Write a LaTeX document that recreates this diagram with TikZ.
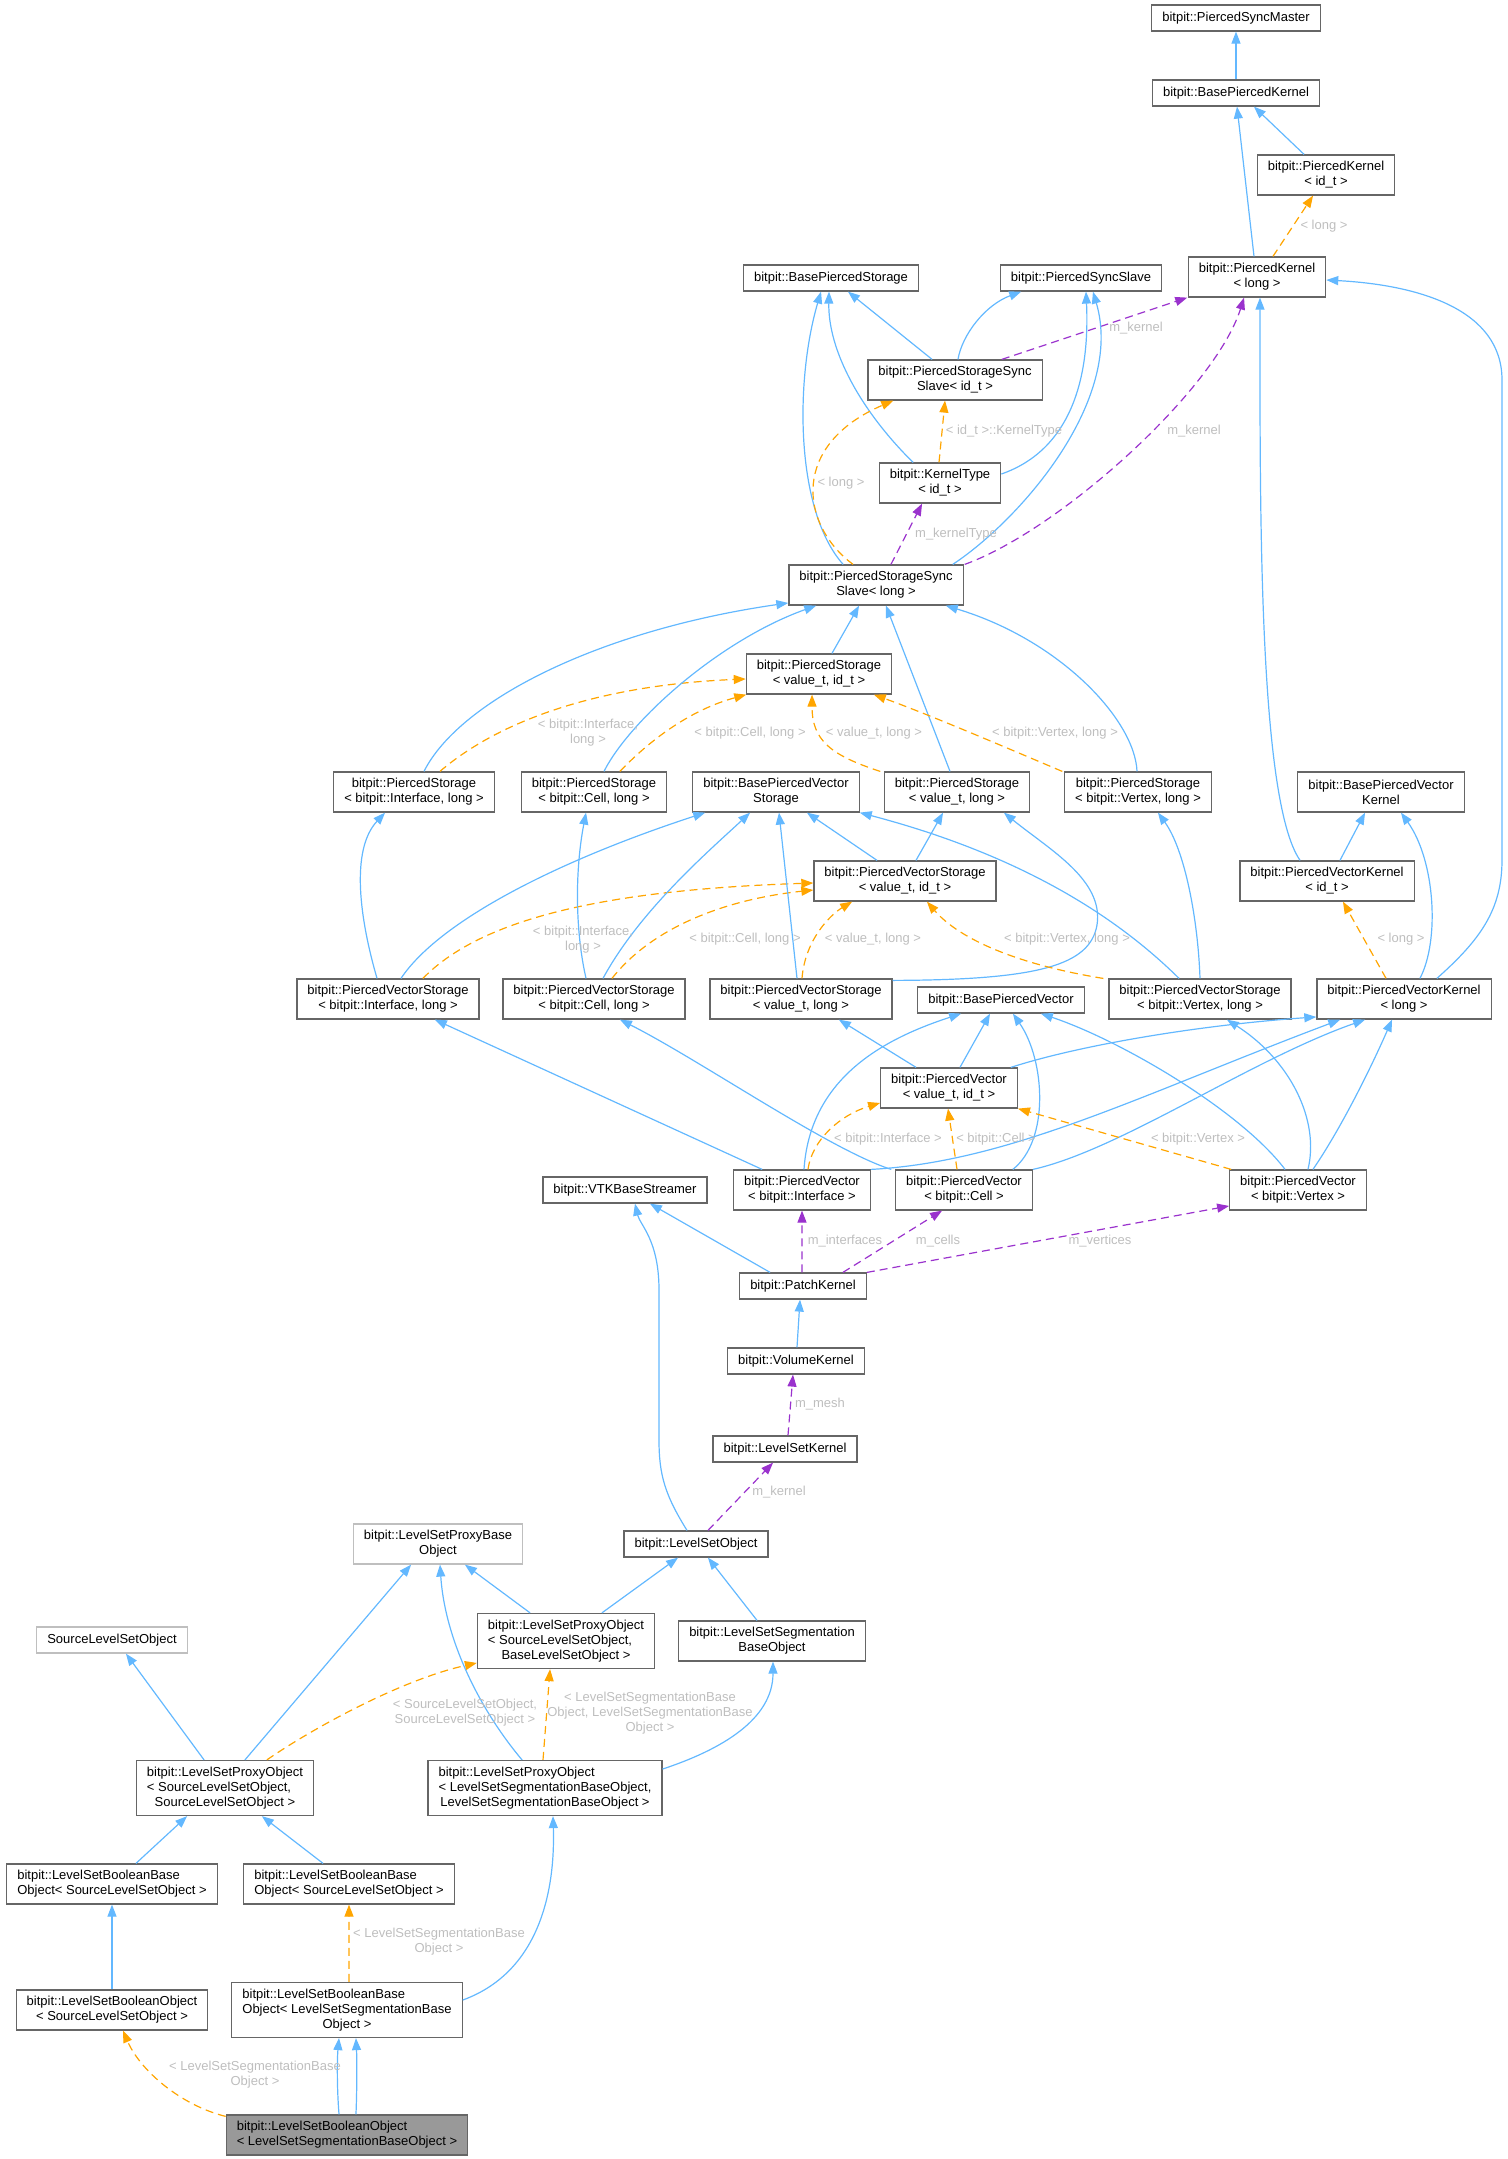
\documentclass[tikz,border=0pt]{standalone}
\usepackage{fontspec}
\setmainfont{Liberation Sans}
\usetikzlibrary{arrows.meta}
\definecolor{edgeblue}{HTML}{63B8FF}
\definecolor{edgeorange}{HTML}{FFA500}
\definecolor{edgepurple}{HTML}{9A32CD}
\definecolor{boxline}{HTML}{666666}
\definecolor{boxlight}{HTML}{BFBFBF}
\definecolor{lblgrey}{HTML}{BEBEBE}
\definecolor{curfill}{HTML}{999999}
\begin{document}
\begin{tikzpicture}
            [x=1bp, y=-1bp, font=\fontsize{13bp}{15bp}\selectfont,
            cls/.style={rectangle, draw=boxline, fill=white, line width=1.2bp,
            inner xsep=10.5bp, inner ysep=0bp, minimum height=26bp, align=center},
            cls2/.style={cls, minimum height=40bp},
            cls3/.style={cls, minimum height=55bp},
            % every edge ends at the base class
            inh/.style={draw=edgeblue, line width=1.2bp, -{Triangle[length=12bp, width=9bp]}},
            tmpl/.style={draw=edgeorange, line width=1.2bp, dash pattern=on 8bp off 5bp,
            -{Triangle[length=12bp, width=9bp]}},
            usage/.style={draw=edgepurple, line width=1.2bp, dash pattern=on 8bp off 5bp,
            -{Triangle[length=12bp, width=9bp]}},
            lbl/.style={text=lblgrey, inner sep=0bp, align=center}]
            \useasboundingbox (0,0) rectangle (1508,2159);

            % kernels and storages
            \node [cls] (syncmaster) at (1236,18) {bitpit::PiercedSyncMaster};
            \node [cls] (basekernel) at (1236,93) {bitpit::BasePiercedKernel};
            \node [cls2] (kernelid) at (1326,175) {bitpit::PiercedKernel\\< id\_t >};
            \node [cls2] (kernellong) at (1257,277) {bitpit::PiercedKernel\\< long >};
            \node [cls] (basestorage) at (831,278) {bitpit::BasePiercedStorage};
            \node [cls] (syncslave) at (1081,278) {bitpit::PiercedSyncSlave};
            \node [cls2] (syncslaveid) at (955,380) {bitpit::PiercedStorageSync\\Slave< id\_t >};
            \node [cls2] (kerneltype) at (940,483) {bitpit::KernelType\\< id\_t >};
            \node [cls2] (syncslavelong) at (876,585) {bitpit::PiercedStorageSync\\Slave< long >};
            \node [cls2] (storageid) at (819,674) {bitpit::PiercedStorage\\< value\_t, id\_t >};
            \node [cls2] (storageiface) at (414,792) {bitpit::PiercedStorage\\< bitpit::Interface, long >};
            \node [cls2] (storagecell) at (594,792) {bitpit::PiercedStorage\\< bitpit::Cell, long >};
            \node [cls2] (basevecstorage) at (776,792) {bitpit::BasePiercedVector\\Storage};
            \node [cls2] (storagelong) at (957,792) {bitpit::PiercedStorage\\< value\_t, long >};
            \node [cls2] (storagevertex) at (1138,792) {bitpit::PiercedStorage\\< bitpit::Vertex, long >};
            \node [cls2] (basevkernel) at (1381,792) {bitpit::BasePiercedVector\\Kernel};
            \node [cls2] (vstorageid) at (905,881) {bitpit::PiercedVectorStorage\\< value\_t, id\_t >};
            \node [cls2] (vkernelid) at (1327,881) {bitpit::PiercedVectorKernel\\< id\_t >};
            \node [cls2] (vstorageiface) at (388,999) {bitpit::PiercedVectorStorage\\< bitpit::Interface, long >};
            \node [cls2] (vstoragecell) at (594,999) {bitpit::PiercedVectorStorage\\< bitpit::Cell, long >};
            \node [cls2] (vstoragelong) at (801,999) {bitpit::PiercedVectorStorage\\< value\_t, long >};
            \node [cls] (basevector) at (1001,1000) {bitpit::BasePiercedVector};
            \node [cls2] (vstoragevertex) at (1200,999) {bitpit::PiercedVectorStorage\\< bitpit::Vertex, long >};
            \node [cls2] (vkernellong) at (1404,999) {bitpit::PiercedVectorKernel\\< long >};
            \node [cls2] (vectorid) at (949,1088) {bitpit::PiercedVector\\< value\_t, id\_t >};
            \node [cls] (vtk) at (625,1190) {bitpit::VTKBaseStreamer};
            \node [cls2] (vectoriface) at (802,1190) {bitpit::PiercedVector\\< bitpit::Interface >};
            \node [cls2] (vectorcell) at (964,1190) {bitpit::PiercedVector\\< bitpit::Cell >};
            \node [cls2] (vectorvertex) at (1298,1190) {bitpit::PiercedVector\\< bitpit::Vertex >};
            \node [cls] (patch) at (803,1286) {bitpit::PatchKernel};
            \node [cls] (volume) at (796,1361) {bitpit::VolumeKernel};
            \node [cls] (lskernel) at (785,1449) {bitpit::LevelSetKernel};

            % level set objects
            \node [cls2, draw=boxlight] (proxybase) at (438,1544) {bitpit::LevelSetProxyBase\\Object};
            \node [cls] (lsobject) at (696,1544) {bitpit::LevelSetObject};
            \node [cls, draw=boxlight] (source) at (112,1640) {SourceLevelSetObject};
            \node [cls3] (proxysb) at (566,1641) {\begin{tabular}{@{}l@{}}bitpit::LevelSetProxyObject\\< SourceLevelSetObject,\\\multicolumn{1}{@{}c@{}}{BaseLevelSetObject >}\end{tabular}};
            \node [cls2] (segbase) at (772,1641) {bitpit::LevelSetSegmentation\\BaseObject};
            \node [cls3] (proxyss) at (225,1788) {\begin{tabular}{@{}l@{}}bitpit::LevelSetProxyObject\\< SourceLevelSetObject,\\\multicolumn{1}{@{}c@{}}{SourceLevelSetObject >}\end{tabular}};
            \node [cls3] (proxyseg) at (545,1788) {\begin{tabular}{@{}l@{}}bitpit::LevelSetProxyObject\\< LevelSetSegmentationBaseObject,\\\multicolumn{1}{@{}c@{}}{LevelSetSegmentationBaseObject >}\end{tabular}};
            \node [cls2, align=left] (boolbaseA) at (112,1884) {bitpit::LevelSetBooleanBase\\Object< SourceLevelSetObject >};
            \node [cls2, align=left] (boolbaseB) at (349,1884) {bitpit::LevelSetBooleanBase\\Object< SourceLevelSetObject >};
            \node [cls2] (boolobjA) at (112,2010) {bitpit::LevelSetBooleanObject\\< SourceLevelSetObject >};
            \node [cls3] (boolbaseseg) at (347,2010) {\begin{tabular}{@{}l@{}}bitpit::LevelSetBooleanBase\\Object< LevelSetSegmentationBase\\\multicolumn{1}{@{}c@{}}{Object >}\end{tabular}};
            \node [cls2, align=left, fill=curfill] (boolobjseg) at (347,2135) {bitpit::LevelSetBooleanObject\\< LevelSetSegmentationBaseObject >};

            % top part
            \draw [inh] (basekernel) -- (syncmaster);
            \draw [inh] ([xshift=-22]kernelid.north) -- ([xshift=18]basekernel.south);
            \draw [inh] ([xshift=-3]kernellong.north) -- ([xshift=1]basekernel.south);
            \draw [tmpl] ([xshift=16]kernellong.north) -- ([xshift=-13]kernelid.south);
            \draw [inh] ([xshift=-23]syncslaveid.north) -- ([xshift=17]basestorage.south);
            \draw [inh] ([xshift=3]syncslaveid.north) .. controls (962,335) and (985,305) .. ([xshift=-60]syncslave.south);
            \draw [usage] ([xshift=47]syncslaveid.north) -- ([xshift=-70]kernellong.south);
            \draw [inh] ([xshift=-27]kerneltype.north) .. controls (860,410) and (828,350) .. ([xshift=-2]basestorage.south);
            \draw [inh] ([yshift=9]kerneltype.east) .. controls (1070,450) and (1090,380) .. ([xshift=5]syncslave.south);
            \draw [tmpl] ([xshift=-1]kerneltype.north) -- ([xshift=-10]syncslaveid.south);
            \draw [inh] ([xshift=-33]syncslavelong.north) .. controls (795,510) and (795,380) .. ([xshift=-10]basestorage.south);
            \draw [tmpl] ([xshift=-23]syncslavelong.north) .. controls (800,525) and (790,445) .. ([xshift=-62]syncslaveid.south);
            \draw [inh] ([xshift=77]syncslavelong.north) .. controls (1020,520) and (1125,400) .. ([xshift=12]syncslave.south);
            \draw [usage] ([xshift=15]syncslavelong.north) -- ([xshift=-18]kerneltype.south);
            \draw [usage] ([xshift=89]syncslavelong.north) .. controls (1060,530) and (1215,390) .. ([xshift=-13]kernellong.south);
            \draw [inh] ([xshift=-27]vkernelid.north) .. controls (1258,800) and (1260,500) .. ([xshift=3]kernellong.south);
            \draw [inh] ([xshift=33]vkernellong.north) .. controls (1480,940) and (1502,910) .. (1502,860)
                -- (1502,380) .. controls (1502,310) and (1420,285) .. ([yshift=-3]kernellong.east);

            % storages
            \draw [inh] ([xshift=10]storageiface.north) .. controls (460,700) and (600,630) .. ([yshift=-18]syncslavelong.west);
            \draw [tmpl] ([xshift=26]storageiface.north) .. controls (500,720) and (600,685) .. ([yshift=-5]storageid.west);
            \draw [inh] ([xshift=10]storagecell.north) .. controls (630,720) and (720,640) .. ([xshift=-60]syncslavelong.south);
            \draw [tmpl] ([xshift=26]storagecell.north) .. controls (650,740) and (690,710) .. ([xshift=-73]storageid.south);
            \draw [inh] ([xshift=13]storageid.north) -- ([xshift=-17]syncslavelong.south);
            \draw [inh] ([xshift=-7]storagelong.north) -- ([xshift=10]syncslavelong.south);
            \draw [tmpl] ([xshift=-77]storagelong.north) .. controls (830,755) and (812,740) .. ([xshift=-7]storageid.south);
            \draw [inh] ([xshift=-1]storagevertex.north) .. controls (1135,720) and (1060,640) .. ([xshift=70]syncslavelong.south);
            \draw [tmpl] ([xshift=-76]storagevertex.north) .. controls (1000,745) and (930,715) .. ([xshift=55]storageid.south);

            % vector storages
            \draw [inh] ([xshift=-11]vstorageiface.north) .. controls (360,920) and (350,850) .. ([xshift=-29]storageiface.south);
            \draw [inh] ([xshift=13]vstorageiface.north) .. controls (440,920) and (560,860) .. ([xshift=-71]basevecstorage.south);
            \draw [tmpl] ([xshift=35]vstorageiface.north) .. controls (480,920) and (600,890) .. ([yshift=-2]vstorageid.west);
            \draw [inh] ([xshift=-8]vstoragecell.north) .. controls (575,930) and (575,870) .. ([xshift=-8]storagecell.south);
            \draw [inh] ([xshift=9]vstoragecell.north) .. controls (640,910) and (710,850) .. ([xshift=-26]basevecstorage.south);
            \draw [tmpl] ([xshift=18]vstoragecell.north) .. controls (650,930) and (720,900) .. ([yshift=-9]vstorageid.west);
            \draw [inh] ([xshift=-4]vstoragelong.north) -- ([xshift=3]basevecstorage.south);
            \draw [tmpl] ([xshift=1]vstoragelong.north) .. controls (805,940) and (830,915) .. ([xshift=-53]vstorageid.south);
            \draw [inh] ([yshift=-2]vstoragelong.north east) .. controls (1040,980) and (1090,965) .. (1097,925)
                .. controls (1104,880) and (1050,850) .. ([xshift=47]storagelong.south);
            \draw [inh] ([xshift=-28]vstorageid.north) -- ([xshift=31]basevecstorage.south);
            \draw [inh] ([xshift=11]vstorageid.north) -- ([xshift=-14]storagelong.south);
            \draw [inh] ([xshift=-21]vstoragevertex.north) .. controls (1130,930) and (1040,860) .. (basevecstorage.south east);
            \draw [inh] (vstoragevertex.north) .. controls (1198,920) and (1185,850) .. ([xshift=20]storagevertex.south);
            \draw [tmpl] ([xshift=-97]vstoragevertex.north) .. controls (1020,965) and (960,940) .. ([xshift=22]vstorageid.south);
            \draw [inh] ([xshift=13]vkernelid.north) -- ([xshift=-16]basevkernel.south);
            \draw [inh] ([xshift=16]vkernellong.north) .. controls (1440,940) and (1435,860) .. ([xshift=20]basevkernel.south);
            \draw [tmpl] ([xshift=-18]vkernellong.north) -- ([xshift=16]vkernelid.south);

            % vectors
            \draw [inh] ([xshift=11]vectorid.north) -- ([xshift=-11]basevector.south);
            \draw [inh] ([xshift=-33]vectorid.north) -- ([xshift=38]vstoragelong.south);
            \draw [inh] ([xshift=62]vectorid.north) .. controls (1080,1045) and (1200,1025) .. ([yshift=-18]vkernellong.west);
            \draw [inh] ([xshift=2]vectoriface.north) .. controls (810,1080) and (880,1040) .. ([xshift=-40]basevector.south);
            \draw [inh] ([xshift=-40]vectoriface.north) -- ([xshift=47]vstorageiface.south);
            \draw [inh] (vectoriface.north east) .. controls (1010,1162) and (1140,1095) .. ([xshift=-64]vkernellong.south);
            \draw [tmpl] ([xshift=6]vectoriface.north) .. controls (812,1140) and (840,1115) .. ([yshift=-15]vectorid.west);
            \draw [inh] ([xshift=49]vectorcell.north) .. controls (1050,1140) and (1045,1060) .. ([xshift=12]basevector.south);
            \draw [inh] ([xshift=-73]vectorcell.north) .. controls (830,1150) and (700,1060) .. ([xshift=26]vstoragecell.south);
            \draw [inh] (vectorcell.north east) .. controls (1120,1150) and (1250,1060) .. ([xshift=-39]vkernellong.south);
            \draw [tmpl] ([xshift=-7]vectorcell.north) -- ([xshift=-1]vectorid.south);
            \draw [inh] ([xshift=-13]vectorvertex.north) .. controls (1240,1110) and (1120,1040) .. ([xshift=40]basevector.south);
            \draw [inh] ([xshift=10]vectorvertex.north) .. controls (1320,1120) and (1290,1060) .. ([xshift=27]vstoragevertex.south);
            \draw [inh] ([xshift=15]vectorvertex.north) .. controls (1340,1130) and (1370,1070) .. ([xshift=-12]vkernellong.south);
            \draw [tmpl] ([xshift=-67]vectorvertex.north) -- (vectorid.south east);

            % patch and level set kernel
            \draw [inh] ([xshift=-33]patch.north) -- ([xshift=25]vtk.south);
            \draw [usage] ([xshift=-1]patch.north) -- (vectoriface.south);
            \draw [usage] ([xshift=40]patch.north) -- ([xshift=-22]vectorcell.south);
            \draw [usage] (patch.north east) -- ([yshift=-16]vectorvertex.west);
            \draw [inh] ([xshift=1]volume.north) -- ([xshift=-3]patch.south);
            \draw [usage] ([xshift=3]lskernel.north) -- ([xshift=-3]volume.south);
            \draw [usage] ([xshift=12]lsobject.north) -- ([xshift=-12]lskernel.south);
            \draw [inh] ([xshift=-9]lsobject.north) .. controls (665,1495) and (659,1475) .. (659,1440)
                -- (659,1290) .. controls (659,1240) and (640,1225) .. ([xshift=10]vtk.south);

            % level set objects
            \draw [inh] ([xshift=36]proxysb.north) -- ([xshift=-18]lsobject.south);
            \draw [inh] ([xshift=-15]segbase.north) -- ([xshift=12]lsobject.south);
            \draw [inh] ([xshift=-36]proxysb.north) -- ([xshift=27]proxybase.south);
            \draw [inh] ([xshift=-23]proxyseg.north) .. controls (480,1710) and (445,1640) .. ([xshift=2]proxybase.south);
            \draw [inh] ([yshift=19]proxyseg.east) .. controls (720,1750) and (773,1720) .. ([xshift=1]segbase.south);
            \draw [tmpl] ([xshift=-2]proxyseg.north) -- ([xshift=-16]proxysb.south);
            \draw [inh] ([xshift=-21]proxyss.north) -- ([xshift=14]source.south);
            \draw [inh] ([xshift=20]proxyss.north) -- ([xshift=-27]proxybase.south);
            \draw [tmpl] ([xshift=42]proxyss.north) .. controls (310,1730) and (400,1680) .. ([yshift=-22]proxysb.west);
            \draw [inh] ([xshift=24]boolbaseA.north) -- ([xshift=-38]proxyss.south);
            \draw [inh] ([xshift=-26]boolbaseB.north) -- ([xshift=37]proxyss.south);
            \draw [inh] (boolobjA) -- (boolbaseA);
            \draw [tmpl] ([xshift=2]boolbaseseg.north) -- (boolbaseB.south);
            \draw [inh] ([yshift=10]boolbaseseg.east) .. controls (545,1970) and (555,1880) .. ([xshift=8]proxyseg.south);
            \draw [inh] ([xshift=-8]boolobjseg.north) .. controls (337,2090) and (337,2060) .. ([xshift=-8]boolbaseseg.south);
            \draw [inh] ([xshift=9]boolobjseg.north) .. controls (357,2090) and (357,2060) .. ([xshift=9]boolbaseseg.south);
            \draw [tmpl] ([yshift=-2]boolobjseg.north west) .. controls (180,2105) and (140,2070) .. ([xshift=11]boolobjA.south);

            % edge labels
            \node [lbl] (lbllong) at (1324,226) {< long >};
            \node [lbl] (lblkernelA) at (1136,328) {m\_kernel};
            \node [lbl] (lblkerneltype) at (1004,431) {< id\_t >::KernelType};
            \node [lbl] (lbllongB) at (841,483) {< long >};
            \node [lbl] (lblmkerneltype) at (956,534) {m\_kernelType};
            \node [lbl] (lblkernelB) at (1194,431) {m\_kernel};
            \node [lbl] (lblifaceA) at (588,733) {< bitpit::Interface,\\long >};
            \node [lbl] (lblcellA) at (750,733) {< bitpit::Cell, long >};
            \node [lbl] (lblvalueA) at (874,733) {< value\_t, long >};
            \node [lbl] (lblvertexA) at (1055,733) {< bitpit::Vertex, long >};
            \node [lbl] (lblifaceB) at (583,940) {< bitpit::Interface,\\long >};
            \node [lbl] (lblcellB) at (745,939) {< bitpit::Cell, long >};
            \node [lbl] (lblvalueB) at (873,939) {< value\_t, long >};
            \node [lbl] (lblvertexB) at (1067,939) {< bitpit::Vertex, long >};
            \node [lbl] (lbllongC) at (1401,939) {< long >};
            \node [lbl] (lblifaceC) at (888,1139) {< bitpit::Interface >};
            \node [lbl] (lblcellC) at (996,1139) {< bitpit::Cell >};
            \node [lbl] (lblvertexC) at (1198,1139) {< bitpit::Vertex >};
            \node [lbl] (lblinterfaces) at (845,1241) {m\_interfaces};
            \node [lbl] (lblcells) at (938,1241) {m\_cells};
            \node [lbl] (lblvertices) at (1100,1241) {m\_vertices};
            \node [lbl] (lblmesh) at (820,1404) {m\_mesh};
            \node [lbl] (lblkernelC) at (779,1492) {m\_kernel};
            \node [lbl] (lblsource) at (465,1713) {< SourceLevelSetObject,\\SourceLevelSetObject >};
            \node [lbl] (lblsegA) at (650,1713) {< LevelSetSegmentationBase\\Object, LevelSetSegmentationBase\\Object >};
            \node [lbl] (lblsegB) at (439,1942) {< LevelSetSegmentationBase\\Object >};
            \node [lbl] (lblsegC) at (255,2075) {< LevelSetSegmentationBase\\Object >};
            \end{tikzpicture}
\end{document}
